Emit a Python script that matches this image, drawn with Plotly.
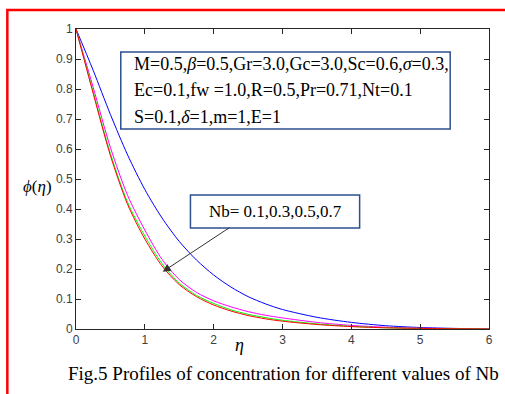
import plotly.graph_objects as go

eta = [0, 0.25, 0.5, 0.75, 1.0, 1.25, 1.5, 1.75, 2.0, 2.25, 2.5, 2.75, 3.0, 3.5, 4.0, 4.5, 5.0, 5.5, 6.0]
phi_blue = [1.0, 0.862, 0.715, 0.58, 0.465, 0.37, 0.292, 0.230, 0.180, 0.140, 0.108, 0.084, 0.065, 0.039, 0.022, 0.011, 0.005, 0.002, 0.0]
phi_magenta = [1.0, 0.805, 0.605, 0.445, 0.33, 0.232, 0.165, 0.122, 0.094, 0.074, 0.058, 0.046, 0.037, 0.022, 0.012, 0.006, 0.003, 0.001, 0.0]
phi_green = [1.0, 0.79, 0.585, 0.422, 0.31, 0.218, 0.153, 0.112, 0.085, 0.064, 0.049, 0.038, 0.029, 0.017, 0.009, 0.004, 0.002, 0.001, 0.0]
phi_red = [1.0, 0.785, 0.578, 0.415, 0.30, 0.21, 0.148, 0.108, 0.080, 0.060, 0.045, 0.034, 0.026, 0.015, 0.008, 0.004, 0.002, 0.001, 0.0]

series = [("Nb=0.1", phi_blue, "#0000ff"), ("Nb=0.3", phi_magenta, "#ff00ff"),
          ("Nb=0.5", phi_green, "#00ff00"), ("Nb=0.7", phi_red, "#ff0000")]

x_ticks = [0, 1, 2, 3, 4, 5, 6]
y_ticks = [0, 0.1, 0.2, 0.3, 0.4, 0.5, 0.6, 0.7, 0.8, 0.9, 1]
y_ticktext = ["0", "0.1", "0.2", "0.3", "0.4", "0.5", "0.6", "0.7", "0.8", "0.9", "1"]

param_lines = ["M=0.5,<i>β</i>=0.5,Gr=3.0,Gc=3.0,Sc=0.6,<i>σ</i>=0.3,",
               "Ec=0.1,fw =1.0,R=0.5,Pr=0.71,Nt=0.1",
               "S=0.1,<i>δ</i>=1,m=1,E=1"]
nb_label = "Nb= 0.1,0.3,0.5,0.7"
caption = "Fig.5 Profiles of concentration for different values of Nb"

fig = go.Figure()
for name, ys, col in series:
    fig.add_trace(go.Scatter(x=eta, y=ys, mode="lines", name=name,
                             line=dict(color=col, width=1, shape="spline", smoothing=0.8)))

serif = "Liberation Serif, Times New Roman, serif"
axcol = "#262626"
fig.update_layout(
    width=505, height=394,
    margin=dict(l=76, r=14, t=29, b=65),
    paper_bgcolor="white", plot_bgcolor="white",
    showlegend=False,
    xaxis=dict(range=[0, 6], tickvals=x_ticks, showgrid=False, zeroline=False,
               showline=True, linecolor=axcol, linewidth=1, mirror="ticks",
               ticks="inside", ticklen=5, tickcolor=axcol, tickwidth=1,
               tickfont=dict(family="Liberation Sans, Arial", size=12, color="#404040")),
    yaxis=dict(range=[0, 1], tickvals=y_ticks, ticktext=y_ticktext, showgrid=False, zeroline=False,
               showline=True, linecolor=axcol, linewidth=1, mirror="ticks",
               ticks="inside", ticklen=5, tickcolor=axcol, tickwidth=1,
               tickfont=dict(family="Liberation Sans, Arial", size=12, color="#404040")),
)

def px2paper(px, py):
    return (px - 76) / 415.0, (329 - py) / 300.0

# red outer frame
x0, y0 = px2paper(7, 10)
x1, y1 = px2paper(530, 420)
fig.add_shape(type="rect", xref="paper", yref="paper", x0=x0, y0=y1, x1=x1, y1=y0,
              line=dict(color="#ff0000", width=2.5), fillcolor="rgba(0,0,0,0)", layer="above")

# parameter box
bx0, by0 = px2paper(121, 52)
bx1, by1 = px2paper(452, 129)
fig.add_shape(type="rect", xref="paper", yref="paper", x0=bx0, y0=by1, x1=bx1, y1=by0,
              line=dict(color="#2f4f8f", width=1.5), fillcolor="white", layer="above")
for i, txt in enumerate(param_lines):
    tx, ty = px2paper(132, 63.5 + 26.7 * i)
    fig.add_annotation(x=tx, y=ty, xref="paper", yref="paper", text=txt, showarrow=False,
                       xanchor="left", yanchor="middle",
                       font=dict(family=serif, size=18, color="black"))

# Nb box
nx0, ny0 = px2paper(191, 195)
nx1, ny1 = px2paper(361, 228)
fig.add_shape(type="rect", xref="paper", yref="paper", x0=nx0, y0=ny1, x1=nx1, y1=ny0,
              line=dict(color="#2f4f8f", width=1.5), fillcolor="white", layer="above")
cx, cy = px2paper(276, 211.5)
fig.add_annotation(x=cx, y=cy, xref="paper", yref="paper", text=nb_label, showarrow=False,
                   xanchor="center", yanchor="middle",
                   font=dict(family=serif, size=17, color="black"))

# arrow
fig.add_annotation(x=1.26, y=0.191, ax=2.25, ay=0.341, xref="x", yref="y", axref="x", ayref="y",
                   text="", showarrow=True, arrowhead=2, arrowsize=1.6, arrowwidth=1,
                   arrowcolor="#333333")

# axis titles
yx, yy = px2paper(37, 187)
fig.add_annotation(x=yx, y=yy, xref="paper", yref="paper", text="<i>ϕ</i>(<i>η</i>)", showarrow=False,
                   xanchor="center", yanchor="middle", font=dict(family=serif, size=17, color="black"))
xx, xy = px2paper(240, 345)
fig.add_annotation(x=xx, y=xy, xref="paper", yref="paper", text="<i>η</i>", showarrow=False,
                   xanchor="center", yanchor="middle", font=dict(family=serif, size=18, color="black"))

# caption
capx, capy = px2paper(285, 373)
fig.add_annotation(x=capx, y=capy, xref="paper", yref="paper", text=caption, showarrow=False,
                   xanchor="center", yanchor="middle", font=dict(family=serif, size=19, color="black"))

fig.write_html("out.html")
